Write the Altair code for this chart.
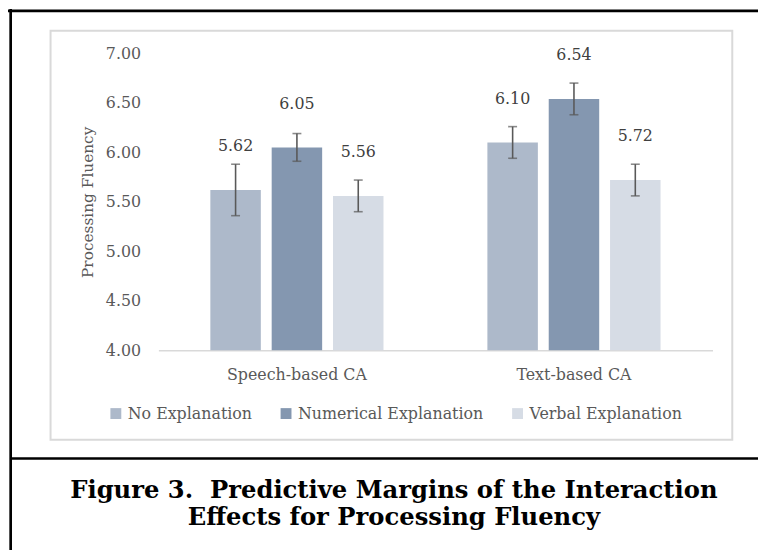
import altair as alt
import pandas as pd

# ---- data ----
groups = ["Speech-based CA", "Text-based CA"]
conditions = ["No Explanation", "Numerical Explanation", "Verbal Explanation"]
speech_means = [5.62, 6.05, 5.56]
text_means = [6.10, 6.54, 5.72]
speech_err = [0.26, 0.14, 0.16]
text_err = [0.16, 0.16, 0.16]
colors = ["#ADB9CA", "#8497B0", "#D6DCE5"]
y_ticks = [4.0, 4.5, 5.0, 5.5, 6.0, 6.5, 7.0]
y_title = "Processing Fluency"
title_lines = ["Figure 3.\u00a0\u00a0Predictive Margins of the Interaction",
               "Effects for Processing Fluency"]

rows = []
for g, ms, es in [(groups[0], speech_means, speech_err), (groups[1], text_means, text_err)]:
    for c, m, e in zip(conditions, ms, es):
        rows.append({"group": g, "cond": c, "mean": m, "lo": m - e, "hi": m + e,
                     "label": f"{m:.2f}"})
df = pd.DataFrame(rows)

FONT = "DejaVu Serif"
GRAY = "#595959"

x_enc = alt.X("group:N", sort=groups, title=None,
              scale=alt.Scale(paddingInner=0, paddingOuter=0),
              axis=alt.Axis(labelAngle=0, ticks=False, domain=True, domainColor="#D9D9D9",
                            domainWidth=1.5, labelFont=FONT, labelFontSize=16,
                            labelColor=GRAY, labelPadding=17, grid=False))
xoff = alt.XOffset("cond:N", sort=conditions,
                   scale=alt.Scale(paddingInner=0.177, paddingOuter=0.847))
y_scale = alt.Scale(domain=[4, 7], nice=False, zero=False)

base = alt.Chart(df)

bars = base.mark_bar().encode(
    x=x_enc,
    xOffset=xoff,
    y=alt.Y("mean:Q", scale=y_scale, title=y_title,
            axis=alt.Axis(values=y_ticks, format=".2f", domain=False, ticks=False, grid=False,
                          labelFont=FONT, labelFontSize=16, labelColor=GRAY, labelPadding=18,
                          titleFont=FONT, titleFontSize=15.5, titleFontWeight="normal",
                          titleColor=GRAY, titleAngle=270, titleX=-72, titleY=150,
                          titleAlign="center", titleBaseline="middle")),
    y2=alt.datum(4),
    color=alt.Color("cond:N", sort=conditions, title=None,
                    scale=alt.Scale(domain=conditions, range=colors),
                    legend=alt.Legend(orient="none", legendX=-51, legendY=356,
                                      direction="horizontal", symbolType="square",
                                      symbolSize=121, symbolStrokeWidth=0, symbolOpacity=1,
                                      labelFont=FONT, labelFontSize=16, labelColor=GRAY,
                                      labelLimit=400,
                                      labelOffset=4, columnPadding=26, padding=0)),
)

err_rule = base.mark_rule(color=GRAY, strokeWidth=1.6).encode(
    x=alt.X("group:N", sort=groups), xOffset=xoff,
    y=alt.Y("lo:Q", scale=y_scale), y2="hi:Q")

cap_lo = base.mark_tick(color=GRAY, thickness=1.6, size=9, orient="horizontal").encode(
    x=alt.X("group:N", sort=groups), xOffset=xoff, y=alt.Y("lo:Q", scale=y_scale))
cap_hi = base.mark_tick(color=GRAY, thickness=1.6, size=9, orient="horizontal").encode(
    x=alt.X("group:N", sort=groups), xOffset=xoff, y=alt.Y("hi:Q", scale=y_scale))

labels = base.mark_text(font=FONT, fontSize=16, color="#404040", dy=-44,
                        baseline="middle").encode(
    x=alt.X("group:N", sort=groups), xOffset=xoff,
    y=alt.Y("mean:Q", scale=y_scale), text="label:N")

one = alt.Data(values=[{"k": 1}])

gray_box = alt.Chart(one).mark_rect(fillOpacity=0, stroke="#D9D9D9", strokeWidth=2).encode(
    x=alt.value(-109), x2=alt.value(580), y=alt.value(-23), y2=alt.value(390.5))

frame_left = alt.Chart(one).mark_rule(color="black", strokeWidth=2.7).encode(
    x=alt.value(-149.3), y=alt.value(-45), y2=alt.value(520))
frame_top = alt.Chart(one).mark_rule(color="black", strokeWidth=3).encode(
    x=alt.value(-155), x2=alt.value(620), y=alt.value(-43))
divider = alt.Chart(one).mark_rule(color="black", strokeWidth=2.5).encode(
    x=alt.value(-150), x2=alt.value(620), y=alt.value(409.5))

title1 = alt.Chart(alt.Data(values=[{"t": title_lines[0]}])).mark_text(
    font=FONT, fontSize=24.5, fontWeight="bold", color="black", baseline="alphabetic",
    align="center").encode(x=alt.value(238), y=alt.value(449.5), text="t:N")
title2 = alt.Chart(alt.Data(values=[{"t": title_lines[1]}])).mark_text(
    font=FONT, fontSize=24.5, fontWeight="bold", color="black", baseline="alphabetic",
    align="center").encode(x=alt.value(238), y=alt.value(476.5), text="t:N")

chart = alt.layer(gray_box, bars, err_rule, cap_lo, cap_hi, labels,
                  frame_left, frame_top, divider, title1, title2).properties(
    width=560, height=300,
    autosize=alt.AutoSizeParams(type="none"),
    padding={"left": 152, "top": 43, "right": 46, "bottom": 199},
    background="white",
).configure_view(strokeWidth=0)

chart.save("out.html", embed_options={"renderer": "svg", "actions": False})
